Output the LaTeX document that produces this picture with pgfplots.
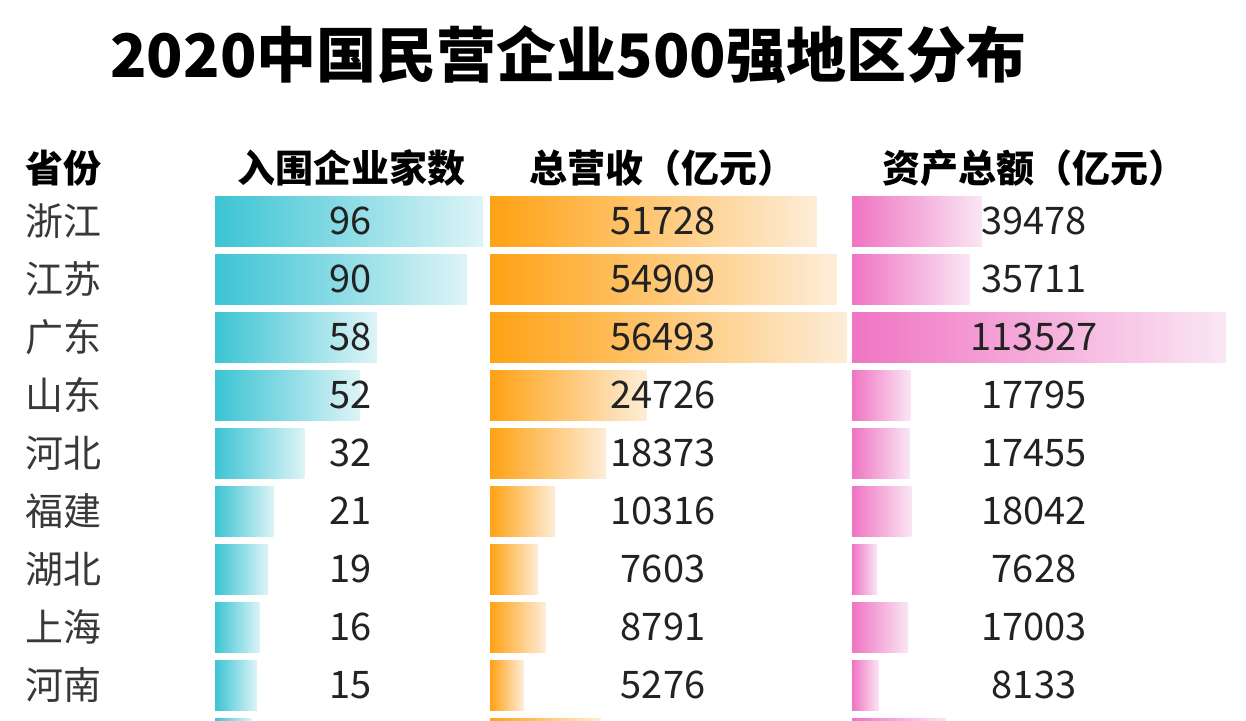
\documentclass[border=0pt]{standalone}
\usepackage{fontspec}
\setmainfont{Noto Sans CJK SC}
\usepackage{pgfplots}
\pgfplotsset{compat=1.18}
\usepackage{pgfplotstable}

\definecolor{cyanA}{HTML}{3CC4D3}
\definecolor{cyanM}{HTML}{6FD3DE}
\definecolor{cyanB}{HTML}{DDF4F7}
\definecolor{orA}{HTML}{FFA214}
\definecolor{orM}{HTML}{FFBC58}
\definecolor{orB}{HTML}{FDEDD8}
\definecolor{pkA}{HTML}{EF74C2}
\definecolor{pkM}{HTML}{F4A3D8}
\definecolor{pkB}{HTML}{FAE6F4}
\definecolor{txt}{HTML}{222222}
\definecolor{prov}{HTML}{383838}

\pgfplotstableread{
idx cnt rev asset
0 96 51728 39478
1 90 54909 35711
2 58 56493 113527
3 52 24726 17795
4 32 18373 17455
5 21 10316 18042
6 19 7603 7628
7 16 8791 17003
8 15 5276 8133
9 13 17500 28600
}\data

\pgfplotsset{
  rowax/.style={
    scale only axis, height=292.9pt,
    ymin=-0.5, ymax=9.6, y dir=reverse,
    xmin=0, axis line style={draw=none},
    major tick length=0pt, xtick=\empty,
    anchor=north west,
  },
  vallab/.style={
    draw=none, mark=none, nodes near coords,
    point meta=explicit symbolic,
    restrict expr to domain={\coordindex}{0:8},
    every node near coord/.append style={anchor=center, inner sep=0pt,
      font=\fontsize{19}{19}\selectfont, text=txt},
  },
}

\begin{document}
\begin{tikzpicture}
\useasboundingbox (0,0) rectangle (623pt,360pt);
\fill[white] (0,0) rectangle (623pt,360pt);

\node[anchor=west, inner sep=0pt, font=\fontsize{30}{30}\selectfont\bfseries, text=black]
  at (55pt,332.5pt) {2020中国民营企业500强地区分布};

\begin{scope}[every node/.style={font=\fontsize{19}{19}\selectfont\bfseries, text=black, inner sep=0pt}]
\node[anchor=base west] at (12.5pt,269pt) {省份};
\node[anchor=base] at (175.5pt,269pt) {入围企业家数};
\node[anchor=base] at (331pt,269pt) {总营收（亿元）};
\node[anchor=base] at (517pt,269pt) {资产总额（亿元）};
\end{scope}

\begin{axis}[rowax, at={(107.5pt,264pt)}, width=135pt, xmax=96.7,
  ytick={0,...,8},
  yticklabels={浙江,江苏,广东,山东,河北,福建,湖北,上海,河南},
  yticklabel style={anchor=west, xshift=-95pt, inner sep=0pt,
    font=\fontsize{19}{19}\selectfont, text=prov}]
\pgfplotsinvokeforeach{0,...,9}{
\addplot[xbar, bar shift=0pt, bar width=25pt, draw=none, left color=cyanA, middle color=cyanM, right color=cyanB,
  restrict expr to domain={\coordindex}{#1:#1}]
  table[x=cnt, y=idx]{\data};
}
\addplot[vallab] table[x expr=48.7, y=idx, meta=cnt]{\data};
\end{axis}

\begin{axis}[rowax, at={(245pt,264pt)}, width=180pt, xmax=56970, ytick=\empty]
\pgfplotsinvokeforeach{0,...,9}{
\addplot[xbar, bar shift=0pt, bar width=25pt, draw=none, left color=orA, middle color=orM, right color=orB,
  restrict expr to domain={\coordindex}{#1:#1}]
  table[x=rev, y=idx]{\data};
}
\addplot[vallab] table[x expr=27378, y=idx, meta=rev]{\data};
\end{axis}

\begin{axis}[rowax, at={(426pt,264pt)}, width=189pt, xmax=114750, ytick=\empty]
\pgfplotsinvokeforeach{0,...,9}{
\addplot[xbar, bar shift=0pt, bar width=25pt, draw=none, left color=pkA, middle color=pkM, right color=pkB,
  restrict expr to domain={\coordindex}{#1:#1}]
  table[x=asset, y=idx]{\data};
}
\addplot[vallab] table[x expr=55250, y=idx, meta=asset]{\data};
\end{axis}
\end{tikzpicture}
\end{document}
